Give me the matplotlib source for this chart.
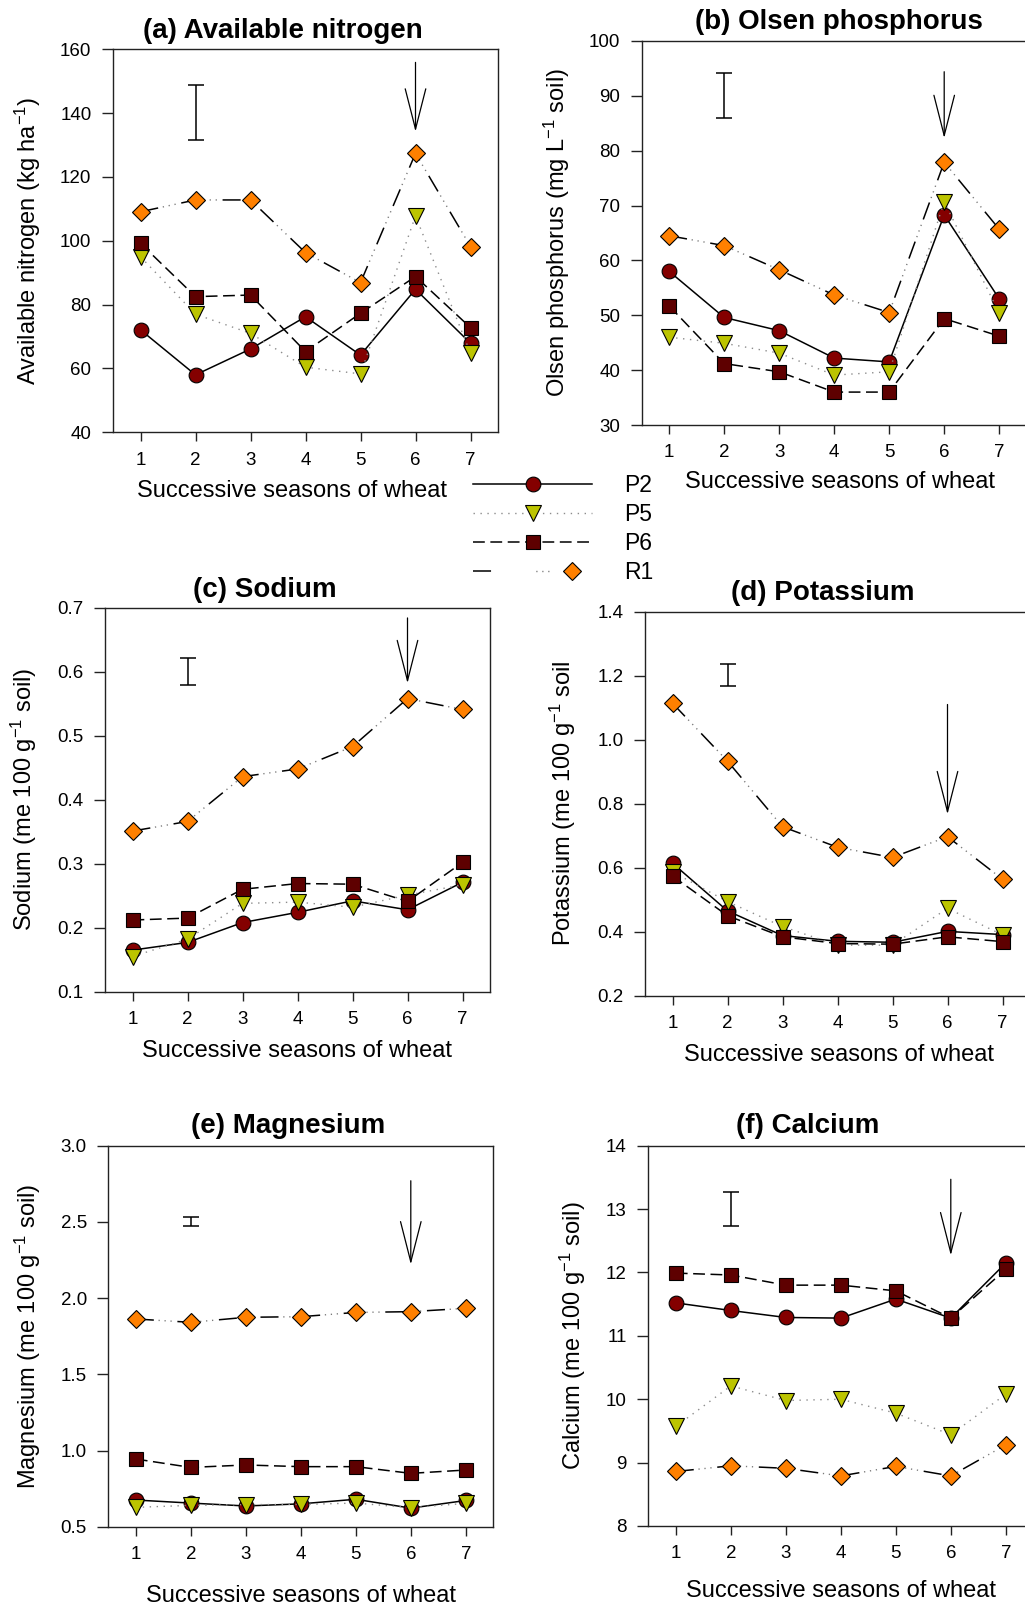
import matplotlib
matplotlib.use("Agg")
import matplotlib.pyplot as plt
from matplotlib.legend_handler import HandlerTuple

plt.rcParams['font.family'] = ['Liberation Sans', 'DejaVu Sans']
plt.rcParams['mathtext.fontset'] = 'custom'
plt.rcParams['mathtext.rm'] = 'Liberation Sans'
plt.rcParams['mathtext.it'] = 'Liberation Sans:italic'
plt.rcParams['mathtext.bf'] = 'Liberation Sans:bold'
plt.rcParams['mathtext.default'] = 'regular'
plt.rcParams['lines.scale_dashes'] = False

seasons = [1, 2, 3, 4, 5, 6, 7]
treatments = ['P2', 'P5', 'P6', 'R1']

# (a) Available nitrogen, kg/ha
nitrogen_P2 = [72.1, 58.0, 66.1, 76.2, 64.2, 84.8, 67.9]
nitrogen_P5 = [95.0, 77.0, 71.0, 60.4, 58.3, 107.8, 64.8]
nitrogen_P6 = [99.2, 82.5, 83.0, 65.3, 77.3, 88.8, 72.8]
nitrogen_R1 = [109.1, 112.8, 112.8, 96.3, 86.9, 127.4, 98.2]

# (b) Olsen phosphorus, mg/L soil
phosphorus_P2 = [58.0, 49.6, 47.2, 42.2, 41.5, 68.3, 53.0]
phosphorus_P5 = [46.0, 44.9, 43.1, 39.1, 39.7, 70.7, 50.4]
phosphorus_P6 = [51.7, 41.2, 39.7, 36.0, 36.0, 49.4, 46.2]
phosphorus_R1 = [64.5, 62.7, 58.3, 53.7, 50.5, 77.9, 65.7]

# (c) Sodium, me/100 g soil
sodium_P2 = [0.165, 0.177, 0.208, 0.224, 0.242, 0.228, 0.271]
sodium_P5 = [0.155, 0.182, 0.238, 0.240, 0.232, 0.251, 0.267]
sodium_P6 = [0.212, 0.215, 0.260, 0.269, 0.268, 0.241, 0.302]
sodium_R1 = [0.351, 0.366, 0.436, 0.448, 0.483, 0.558, 0.541]

# (d) Potassium, me/100 g soil
potassium_P2 = [0.614, 0.465, 0.388, 0.370, 0.367, 0.401, 0.391]
potassium_P5 = [0.587, 0.494, 0.416, 0.358, 0.358, 0.473, 0.390]
potassium_P6 = [0.574, 0.450, 0.384, 0.363, 0.361, 0.384, 0.369]
potassium_R1 = [1.114, 0.933, 0.728, 0.664, 0.632, 0.697, 0.564]

# (e) Magnesium, me/100 g soil
magnesium_P2 = [0.675, 0.655, 0.636, 0.650, 0.680, 0.622, 0.672]
magnesium_P5 = [0.627, 0.640, 0.645, 0.646, 0.655, 0.625, 0.653]
magnesium_P6 = [0.944, 0.889, 0.905, 0.894, 0.894, 0.850, 0.872]
magnesium_R1 = [1.863, 1.841, 1.874, 1.878, 1.906, 1.911, 1.933]

# (f) Calcium, me/100 g soil
calcium_P2 = [11.52, 11.40, 11.29, 11.28, 11.58, 11.28, 12.15]
calcium_P5 = [9.57, 10.21, 9.98, 10.00, 9.78, 9.44, 10.08]
calcium_P6 = [11.99, 11.96, 11.80, 11.80, 11.71, 11.28, 12.05]
calcium_R1 = [8.86, 8.95, 8.91, 8.79, 8.94, 8.79, 9.28]

# LSD bars (lower, upper) drawn at season 2
lsd_nitrogen = (131.6, 148.8)
lsd_phosphorus = (86.0, 94.2)
lsd_sodium = (0.579, 0.621)
lsd_potassium = (1.168, 1.235)
lsd_magnesium = (2.475, 2.530)
lsd_calcium = (12.74, 13.27)

# Arrow marking season 6 (start, tip)
arrow_nitrogen = (155.9, 134.2)
arrow_phosphorus = (94.4, 82.3)
arrow_sodium = (0.684, 0.582)
arrow_potassium = (1.110, 0.767)
arrow_magnesium = (2.770, 2.221)
arrow_calcium = (13.47, 12.27)

W, H = 1025, 1607
fig = plt.figure(figsize=(W / 100, H / 100), dpi=100)

AX_W = 385
panels = [
    dict(title='(a) Available nitrogen', title_xy=(283, 31), rect=(113, 49.3, 432.3),
         ylabel='Available nitrogen (kg ha$^{-1}$)',
         data=[nitrogen_P2, nitrogen_P5, nitrogen_P6, nitrogen_R1],
         ylim=(40, 160), yticks=[40, 60, 80, 100, 120, 140, 160], fmt='{:.0f}',
         lsd=lsd_nitrogen, arrow=arrow_nitrogen, xl_pos=(0.465, 59), yl_off=85),
    dict(title='(b) Olsen phosphorus', title_xy=(839, 22), rect=(641.7, 41, 425),
         ylabel='Olsen phosphorus (mg L$^{-1}$ soil)',
         data=[phosphorus_P2, phosphorus_P5, phosphorus_P6, phosphorus_R1],
         ylim=(30, 100), yticks=[30, 40, 50, 60, 70, 80, 90, 100], fmt='{:.0f}',
         lsd=lsd_phosphorus, arrow=arrow_phosphorus, xl_pos=(0.516, 57), yl_off=85),
    dict(title='(c) Sodium', title_xy=(265, 590), rect=(105, 607.7, 991.7),
         ylabel='Sodium (me 100 g$^{-1}$ soil)',
         data=[sodium_P2, sodium_P5, sodium_P6, sodium_R1],
         ylim=(0.1, 0.7), yticks=[0.1, 0.2, 0.3, 0.4, 0.5, 0.6, 0.7], fmt='{:.1f}',
         lsd=lsd_sodium, arrow=arrow_sodium, xl_pos=(0.5, 59), yl_off=81),
    dict(title='(d) Potassium', title_xy=(823, 593), rect=(645, 611.7, 995.7),
         ylabel='Potassium (me 100 g$^{-1}$ soil',
         data=[potassium_P2, potassium_P5, potassium_P6, potassium_R1],
         ylim=(0.2, 1.4), yticks=[0.2, 0.4, 0.6, 0.8, 1.0, 1.2, 1.4], fmt='{:.1f}',
         lsd=lsd_potassium, arrow=arrow_potassium, xl_pos=(0.505, 59), yl_off=82),
    dict(title='(e) Magnesium', title_xy=(288, 1126), rect=(108.3, 1145.7, 1526.7),
         ylabel='Magnesium (me 100 g$^{-1}$ soil)',
         data=[magnesium_P2, magnesium_P5, magnesium_P6, magnesium_R1],
         ylim=(0.5, 3.0), yticks=[0.5, 1.0, 1.5, 2.0, 2.5, 3.0], fmt='{:.1f}',
         lsd=lsd_magnesium, arrow=arrow_magnesium, xl_pos=(0.5, 69), yl_off=80),
    dict(title='(f) Calcium', title_xy=(808, 1126), rect=(648.3, 1145.7, 1526),
         ylabel='Calcium (me 100 g$^{-1}$ soil)',
         data=[calcium_P2, calcium_P5, calcium_P6, calcium_R1],
         ylim=(8, 14), yticks=[8, 9, 10, 11, 12, 13, 14], fmt='{:.0f}',
         lsd=lsd_calcium, arrow=arrow_calcium, xl_pos=(0.5, 65), yl_off=75),
]

SPINE = '#222222'
DOT_GREY = '#8c8c8c'
R1_DOT_GREY = '#7a7a7a'

# per-treatment styling
styles = {
    'P2': dict(marker='o', ms=10.6, mfc='#840000', ls='-', color='black'),
    'P5': dict(marker='v', ms=11.5, mfc='#bcc400', ls=(0, (1.0, 4.0)), color=DOT_GREY),
    'P6': dict(marker='s', ms=9.8, mfc='#5e0000', ls=(0, (8.5, 4.0)), color='black'),
    'R1': dict(marker='D', ms=9.6, mfc='#ff8000', ls=None, color='black'),
}
# R1 uses a dash / dot-dot-dot pattern: black dashes plus grey dots
R1_DASH = (0, (13.0, 17.0))
R1_DOTS = (17.0 - 3.4, (0.9, 3.4, 0.9, 3.4, 0.9, 20.5))

legend_handles = None

for k, p in enumerate(panels):
    left, top, bottom = p['rect']
    ax = fig.add_axes([left / W, 1 - bottom / H, AX_W / W, (bottom - top) / H])
    handles = []
    for j, (name, yv) in enumerate(zip(treatments, p['data'])):
        st = styles[name]
        z = 3 + j
        if name == 'R1':
            l1, = ax.plot(seasons, yv, ls=R1_DASH, color='black', lw=1.1, zorder=z)
            l2, = ax.plot(seasons, yv, ls=R1_DOTS, color=R1_DOT_GREY, lw=1.0, zorder=z)
            m, = ax.plot(seasons, yv, ls='none', marker=st['marker'], ms=st['ms'],
                         mfc=st['mfc'], mec='black', mew=0.8, zorder=z + 0.5)
            handles.append((l1, l2, m))
        else:
            lw = 1.0 if name == 'P5' else 1.1
            l, = ax.plot(seasons, yv, ls=st['ls'], color=st['color'], lw=lw,
                         marker=st['marker'], ms=st['ms'], mfc=st['mfc'],
                         mec='black', mew=0.8, zorder=z)
            handles.append(l)
    if legend_handles is None:
        legend_handles = handles

    lo, hi = p['lsd']
    ax.errorbar([2], [(lo + hi) / 2], yerr=[(hi - lo) / 2], fmt='none',
                ecolor='black', elinewidth=1.1, capsize=6 if k != 4 else 5.5,
                capthick=1.1, zorder=10)

    a0, a1 = p['arrow']
    ax.annotate('', xy=(6, a1), xytext=(6, a0),
                arrowprops=dict(arrowstyle='->, head_length=2.9, head_width=0.74',
                                lw=0.9, color='black', shrinkA=0, shrinkB=0,
                                mutation_scale=10), zorder=10)

    ax.set_xlim(0.5, 7.5)
    ax.set_ylim(*p['ylim'])
    ax.set_xticks(seasons)
    ax.set_xticklabels([str(s) for s in seasons])
    ax.set_yticks(p['yticks'])
    ax.set_yticklabels([p['fmt'].format(v) for v in p['yticks']])
    ax.tick_params(axis='y', direction='out', length=8, width=1.0, pad=7.5,
                   labelsize=13.5, color=SPINE, labelcolor='black')
    ax.tick_params(axis='x', direction='out', length=6.5, width=1.0, pad=7.5,
                   labelsize=13.5, color=SPINE, labelcolor='black')
    for s in ax.spines.values():
        s.set_color(SPINE)
        s.set_linewidth(1.0)

    ax.set_ylabel(p['ylabel'], fontsize=17)
    ax.yaxis.set_label_coords(-p['yl_off'] / AX_W, 0.5)
    ax.yaxis.label.set_va('center')
    ax.set_xlabel('Successive seasons of wheat', fontsize=17)
    xl_x, xl_off = p['xl_pos']
    ax.xaxis.set_label_coords(xl_x, -xl_off / (bottom - top))
    ax.xaxis.label.set_va('center')

    tx, ty = p['title_xy']
    fig.text(tx / W, 1 - ty / H, p['title'], ha='center', va='center',
             fontsize=20, fontweight='bold')

fig.legend(legend_handles, treatments, loc='center left',
           bbox_to_anchor=(473 / W, 1 - 529 / H), frameon=False, fontsize=16.5,
           handlelength=5.2, handletextpad=1.4, labelspacing=0.27,
           borderpad=0, borderaxespad=0, numpoints=1,
           handler_map={tuple: HandlerTuple(ndivide=None, pad=0)})

fig.savefig('out.png', dpi=100)
